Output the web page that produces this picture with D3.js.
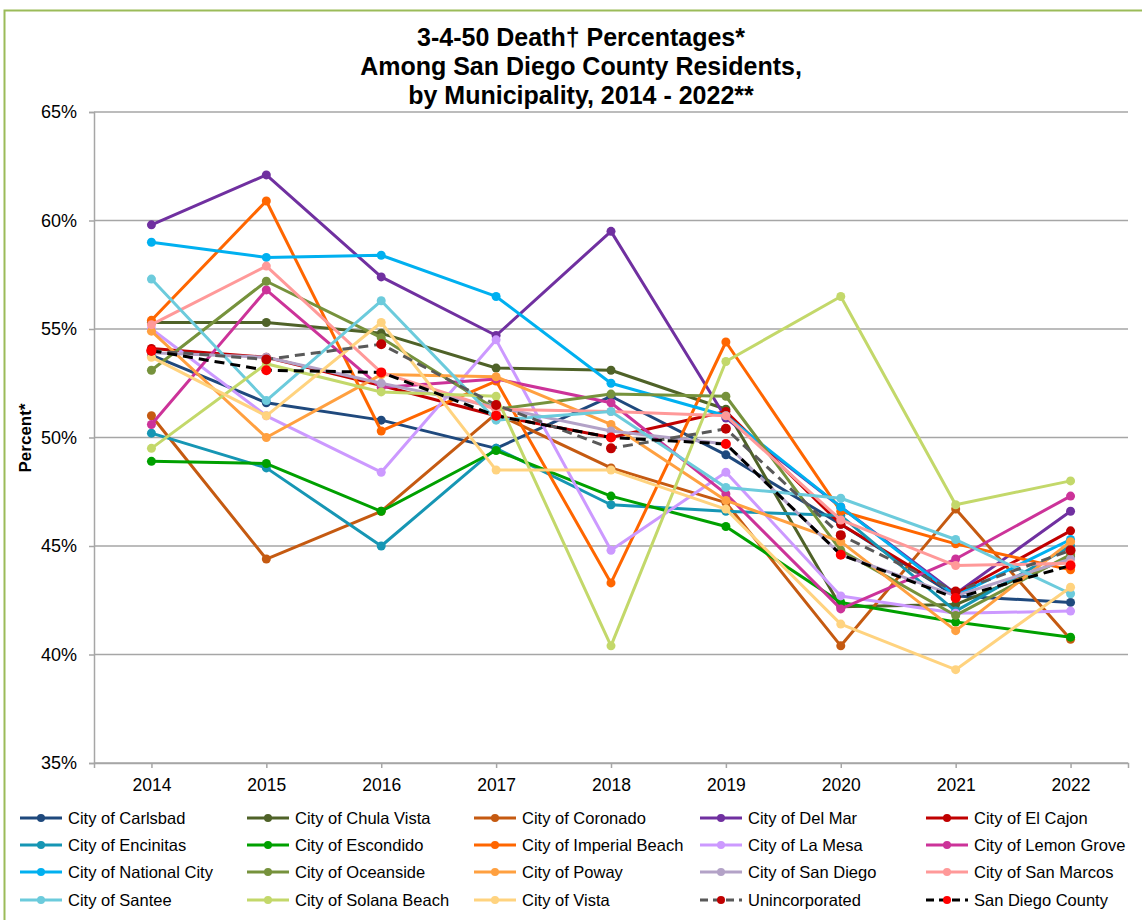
<!DOCTYPE html>
<html><head><meta charset="utf-8">
<script src="https://cdn.jsdelivr.net/npm/d3@7"></script>
<style>body{margin:0;background:#fff;font-family:Arial,"Liberation Sans",sans-serif}</style>
</head><body><svg id="c" width="1142" height="920"></svg>
<script>
const years = ["2014","2015","2016","2017","2018","2019","2020","2021","2022"];
const yTicks = [35,40,45,50,55,60,65];
const seriesNames = ["City of Carlsbad","City of Chula Vista","City of Coronado","City of Del Mar","City of El Cajon",
 "City of Encinitas","City of Escondido","City of Imperial Beach","City of La Mesa","City of Lemon Grove",
 "City of National City","City of Oceanside","City of Poway","City of San Diego","City of San Marcos",
 "City of Santee","City of Solana Beach","City of Vista","Unincorporated","San Diego County"];
const carlsbad      = [53.8,51.6,50.8,49.5,51.9,49.2,46.0,42.7,42.4];
const chulaVista    = [55.3,55.3,54.8,53.2,53.1,51.3,42.2,42.3,44.5];
const coronado      = [51.0,44.4,46.6,51.1,48.6,47.0,40.4,46.7,40.7];
const delMar        = [59.8,62.1,57.4,54.7,59.5,50.9,46.8,42.8,46.6];
const elCajon       = [54.1,53.7,52.4,51.0,50.0,51.2,46.0,42.8,45.7];
const encinitas     = [50.2,48.6,45.0,49.5,46.9,46.6,46.4,42.0,45.0];
const escondido     = [48.9,48.8,46.6,49.4,47.3,45.9,42.4,41.5,40.8];
const imperialBeach = [55.4,60.9,50.3,52.6,43.3,54.4,46.6,45.1,43.9];
const laMesa        = [55.0,51.0,48.4,54.5,44.8,48.4,42.7,41.9,42.0];
const lemonGrove    = [50.6,56.8,52.3,52.7,51.6,47.4,42.1,44.4,47.3];
const nationalCity  = [59.0,58.3,58.4,56.5,52.5,51.0,46.8,42.7,45.3];
const oceanside     = [53.1,57.2,54.6,51.3,52.0,51.9,44.8,41.8,44.6];
const poway         = [54.9,50.0,52.9,52.8,50.6,47.1,45.2,41.1,45.2];
const sanDiego      = [53.9,53.7,52.5,51.4,50.3,49.7,44.6,42.7,44.4];
const sanMarcos     = [55.2,57.9,53.0,51.3,51.2,51.0,46.2,44.1,44.2];
const santee        = [57.3,51.7,56.3,50.8,51.2,47.7,47.2,45.3,42.8];
const solanaBeach   = [49.5,53.4,52.1,51.9,40.4,53.5,56.5,46.9,48.0];
const vista         = [53.7,51.0,55.3,48.5,48.5,46.7,41.4,39.3,43.1];
const unincorporated= [54.0,53.6,54.3,51.5,49.5,50.4,45.5,42.9,44.8];
const sdCounty      = [54.0,53.1,53.0,51.0,50.0,49.7,44.6,42.6,44.1];
const seriesValues = [carlsbad,chulaVista,coronado,delMar,elCajon,encinitas,escondido,imperialBeach,laMesa,lemonGrove,
 nationalCity,oceanside,poway,sanDiego,sanMarcos,santee,solanaBeach,vista,unincorporated,sdCounty];
const lineColors = ["#1F497D","#4F6228","#C55A11","#7030A0","#C00000","#1696B4","#00A000","#FF6600","#CC99FF","#CC3399",
 "#00B0F0","#76923C","#FFA040","#B3A2C7","#FF9999","#6CCBDC","#C3D86A","#FFD37F","#595959","#000000"];
const markerColors = lineColors.slice(0,18).concat(["#C00000","#FF0000"]);
const dashed = [false,false,false,false,false,false,false,false,false,false,false,false,false,false,false,false,false,false,true,true];

const svg = d3.select("#c");
svg.append("rect").attr("x",4.5).attr("y",10.5).attr("width",1150).attr("height",930)
  .attr("fill","none").attr("stroke","#9BBB59").attr("stroke-width",2);

const pLeft=94, pRight=1128, pTop=112, pBottom=763;
const x = d3.scalePoint().domain(years).range([pLeft,pRight]).padding(0.5);
const y = d3.scaleLinear().domain([35,65]).range([pBottom,pTop]);

// title
const title = ["3-4-50 Death\u2020 Percentages*","Among San Diego County Residents,","by Municipality, 2014 - 2022**"];
svg.append("g").selectAll("text").data(title).join("text")
  .attr("x",581).attr("y",(d,i)=>46+i*29).attr("text-anchor","middle")
  .attr("font-family","'Liberation Sans Narrow','Arial Narrow',Arial,sans-serif")
  .attr("font-weight","bold").attr("font-size",25).attr("fill","#000").text(d=>d);

// gridlines
svg.append("g").selectAll("line").data(yTicks).join("line")
  .attr("x1",pLeft).attr("x2",pRight).attr("y1",d=>y(d)).attr("y2",d=>y(d))
  .attr("stroke","#A6A6A6").attr("stroke-width",1.5);

// y axis
const ya = svg.append("g").attr("transform",`translate(${pLeft},0)`)
  .call(d3.axisLeft(y).tickValues(yTicks).tickFormat(d=>d+"%").tickSize(5).tickPadding(12));
ya.select(".domain").attr("stroke","#A6A6A6").attr("stroke-width",1.5);
ya.selectAll(".tick line").attr("stroke","#A6A6A6").attr("stroke-width",1.5);
ya.selectAll("text").attr("font-size",18).attr("font-family","Arial,'Liberation Sans',sans-serif").attr("fill","#000");

// x axis
const xa = svg.append("g").attr("transform",`translate(0,${pBottom})`)
  .call(d3.axisBottom(x).tickSize(5).tickPadding(11));
xa.select(".domain").attr("stroke","#A6A6A6").attr("stroke-width",1.5);
xa.selectAll(".tick line").attr("stroke","#A6A6A6").attr("stroke-width",1.5);
xa.selectAll("text").attr("font-size",17.5).attr("font-family","Arial,'Liberation Sans',sans-serif").attr("fill","#000");

svg.append("text").attr("transform","translate(31,438) rotate(-90)").attr("text-anchor","middle")
  .attr("font-weight","bold").attr("font-size",17).text("Percent*");

// lines
const line = d3.line().x((d,i)=>x(years[i])).y(d=>y(d));
const g = svg.append("g");
seriesValues.forEach((vals,k)=>{
  const s = g.append("g");
  s.append("path").attr("d",line(vals)).attr("fill","none").attr("stroke",lineColors[k])
   .attr("stroke-width",3).attr("stroke-linejoin","round")
   .attr("stroke-dasharray",dashed[k]?"10,6":null);
  s.selectAll("circle").data(vals).join("circle")
   .attr("cx",(d,i)=>x(years[i])).attr("cy",d=>y(d)).attr("r",dashed[k]?5:4.5)
   .attr("fill",markerColors[k]);
});

// legend
const colX = [20,247,474,700,926];
const rowY = [818,845,872,900];
const lg = svg.append("g");
seriesNames.forEach((name,k)=>{
  const cx = colX[k%5], cy = rowY[Math.floor(k/5)];
  const it = lg.append("g").attr("transform",`translate(${cx},${cy})`);
  it.append("line").attr("x1",0).attr("x2",42).attr("y1",0).attr("y2",0)
    .attr("stroke",lineColors[k]).attr("stroke-width",3)
    .attr("stroke-dasharray",dashed[k]?"8,5":null);
  it.append("circle").attr("cx",21).attr("cy",0).attr("r",4).attr("fill",markerColors[k]);
  it.append("text").attr("x",48).attr("y",6).attr("font-size",16.5)
    .attr("font-family","Arial,'Liberation Sans',sans-serif").attr("fill","#000").text(name);
});
</script></body></html>
